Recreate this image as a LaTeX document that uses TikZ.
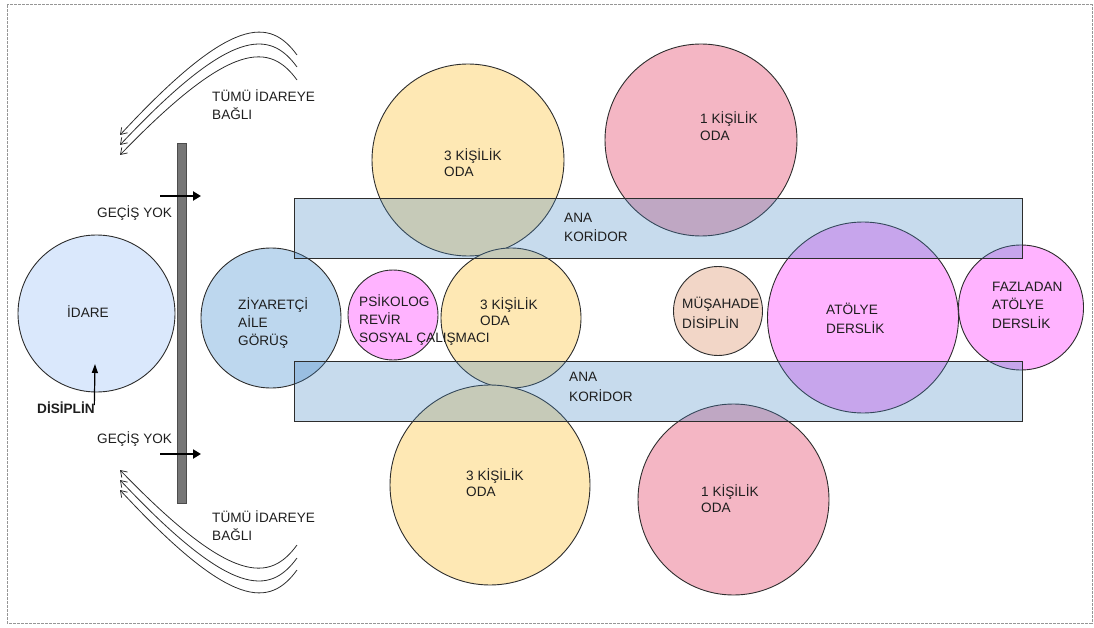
\documentclass[tikz,border=0pt]{standalone}
\usepackage{fontspec}
\setmainfont{Liberation Sans}
\usetikzlibrary{arrows.meta}
\definecolor{txt}{RGB}{30,30,30}
\definecolor{edge}{RGB}{45,45,45}
\definecolor{idarec}{RGB}{218,232,252}
\definecolor{ziyc}{RGB}{189,215,238}
\definecolor{magc}{RGB}{255,179,255}
\definecolor{yelc}{RGB}{254,232,180}
\definecolor{pinkc}{RGB}{244,182,196}
\definecolor{peachc}{RGB}{242,214,199}
\definecolor{corrc}{RGB}{70,135,195}
\definecolor{barc}{RGB}{118,118,118}
\definecolor{framec}{RGB}{150,150,150}
\tikzset{
  room/.style={circle, draw=edge, line width=0.9pt, inner sep=0pt},
  corridor/.style={rectangle, draw=edge, line width=0.9pt, fill=corrc, fill opacity=0.3, inner sep=0pt, minimum width=728pt, minimum height=60pt},
  lbl/.style={font=\fontsize{13.6}{18}\selectfont, text=txt, align=left, inner sep=0pt, anchor=base west},
  lbltight/.style={lbl, font=\fontsize{13.6}{16.5}\selectfont},
  flow/.style={draw=edge, line width=0.8pt, -{Straight Barb[length=6pt,width=8pt]}},
  block/.style={draw=black, line width=2.6pt, -{Triangle[length=8pt,width=9pt]}},
  thinblock/.style={draw=black, line width=1.2pt, -{Triangle[length=9pt,width=6pt]}}
}
\begin{document}
\begin{tikzpicture}[x=1pt,y=-1pt]
\useasboundingbox (0,0) rectangle (1094,628);
\draw[framec, line width=1pt, dash pattern=on 3pt off 1pt] (7,5) rectangle (1092,623);

% circles
\node[room, fill=idarec, minimum size=157pt] (idare) at (96.5,313.5) {};
\node[room, fill=ziyc, minimum size=140pt] (ziy) at (271,318) {};
\node[room, fill=magc, minimum size=90pt] (psi) at (393,315) {};
\node[room, fill=yelc, minimum size=192pt] (oda3a) at (468,160) {};
\node[room, fill=pinkc, minimum size=192pt] (oda1a) at (701,140) {};
\node[room, fill=yelc, minimum size=140pt] (oda3b) at (511,318) {};
\node[room, fill=peachc, minimum size=89pt] (mus) at (718,311) {};
\node[room, fill=magc, minimum size=191pt] (atol) at (863,317.5) {};
\node[room, fill=magc, minimum size=125pt] (faz) at (1021,307.5) {};
\node[room, fill=yelc, minimum size=200pt] (oda3c) at (490,485) {};
\node[room, fill=pinkc, minimum size=191pt] (oda1b) at (733.5,499.5) {};

% corridors
\node[corridor] (kor1) at (658,228) {};
\node[corridor] (kor2) at (658,391.5) {};

% wall
\node[rectangle, draw=black!70, fill=barc, line width=0.8pt, minimum width=9pt, minimum height=360pt, inner sep=0pt] (wall) at (181.5,323) {};

% labels (anchor = baseline of last line)
\node[lbl] (tidare) at (67,317) {İDARE};
\node[lbl] (tziy) at (238,345) {ZİYARETÇİ\\AİLE\\GÖRÜŞ};
\node[lbl] (tpsi) at (359,342) {PSİKOLOG\\REVİR\\SOSYAL ÇALIŞMACI};
\node[lbl, font=\fontsize{13.6}{16}\selectfont] (toda3a) at (444,177) {3 KİŞİLİK\\ODA};
\node[lbl, font=\fontsize{13.6}{17}\selectfont] (toda1a) at (700,141) {1 KİŞİLİK\\ODA};
\node[lbl, font=\fontsize{13.6}{16}\selectfont] (toda3b) at (480,325) {3 KİŞİLİK\\ODA};
\node[lbl, font=\fontsize{13.6}{20}\selectfont] (tmus) at (682,328) {MÜŞAHADE\\DİSİPLİN};
\node[lbl, font=\fontsize{13.6}{19}\selectfont] (tatol) at (826,333) {ATÖLYE\\DERSLİK};
\node[lbl, font=\fontsize{13.6}{18.5}\selectfont] (tfaz) at (992,328) {FAZLADAN\\ATÖLYE\\DERSLİK};
\node[lbl, font=\fontsize{13.6}{16}\selectfont] (toda3c) at (466,496) {3 KİŞİLİK\\ODA};
\node[lbl, font=\fontsize{13.6}{15.5}\selectfont] (toda1b) at (701,512) {1 KİŞİLİK\\ODA};
\node[lbl, font=\fontsize{13.6}{19.5}\selectfont] (tkor1) at (564,242) {ANA\\KORİDOR};
\node[lbl, font=\fontsize{13.6}{19.5}\selectfont] (tkor2) at (569,401) {ANA\\KORİDOR};
\node[lbl] (tgec1) at (97,218) {GEÇİŞ YOK};
\node[lbl] (tgec2) at (97,443) {GEÇİŞ YOK};
\node[lbl] (ttum1) at (212,120) {TÜMÜ İDAREYE\\BAĞLI};
\node[lbl] (ttum2) at (212,540) {TÜMÜ İDAREYE\\BAĞLI};
\node[lbl, font=\fontsize{13.6}{18}\selectfont\bfseries] (tdis) at (37,413) {DİSİPLİN};

% arrows through wall
\coordinate (g1s) at (160,196);
\coordinate (g1e) at (201,196);
\coordinate (g2s) at (160,454);
\coordinate (g2e) at (201,454);
\draw[block] (g1s) -- (g1e);
\draw[block] (g2s) -- (g2e);

% disiplin arrow
\coordinate (dtip) at (95,364);
\draw[thinblock] (tdis.north east) ++(-0.5,4) coordinate (dtail) -- (dtip);

% top curved flows
\coordinate (ta1) at (297,55);  \coordinate (tb1) at (120,135);
\coordinate (ta2) at (297,67);  \coordinate (tb2) at (120,145);
\coordinate (ta3) at (297,80);  \coordinate (tb3) at (120,155);
\draw[flow] (ta1) .. controls (270,18) and (232,14) .. (tb1);
\draw[flow] (ta2) .. controls (270,30) and (232,26) .. (tb2);
\draw[flow] (ta3) .. controls (270,43) and (232,39) .. (tb3);

% bottom curved flows
\coordinate (ba1) at (297,570);  \coordinate (bb1) at (120,490);
\coordinate (ba2) at (297,558);  \coordinate (bb2) at (120,480);
\coordinate (ba3) at (297,545);  \coordinate (bb3) at (120,470);
\draw[flow] (ba1) .. controls (270,607) and (232,611) .. (bb1);
\draw[flow] (ba2) .. controls (270,595) and (232,599) .. (bb2);
\draw[flow] (ba3) .. controls (270,582) and (232,586) .. (bb3);
\end{tikzpicture}
\end{document}
